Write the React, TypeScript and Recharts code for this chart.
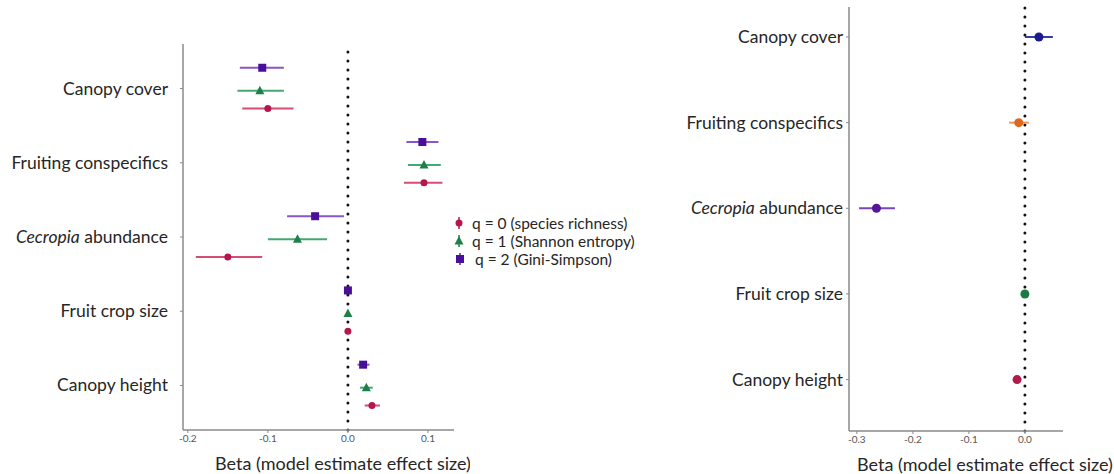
import React from 'react';
import {
  ScatterChart,
  Scatter,
  XAxis,
  YAxis,
  ErrorBar,
  ReferenceLine,
} from 'recharts';

const categories = [
  'Canopy cover',
  'Fruiting conspecifics',
  'Cecropia abundance',
  'Fruit crop size',
  'Canopy height',
];

// left panel: three Hill numbers
const q0Est = [-0.1, 0.095, -0.15, 0.0, 0.03];
const q0Low = [-0.132, 0.07, -0.19, -0.002, 0.021];
const q0High = [-0.068, 0.118, -0.107, 0.002, 0.04];

const q1Est = [-0.11, 0.095, -0.063, 0.0, 0.023];
const q1Low = [-0.138, 0.075, -0.1, -0.002, 0.015];
const q1High = [-0.08, 0.116, -0.026, 0.002, 0.031];

const q2Est = [-0.107, 0.093, -0.041, 0.0, 0.019];
const q2Low = [-0.135, 0.073, -0.076, -0.002, 0.012];
const q2High = [-0.08, 0.113, -0.005, 0.002, 0.027];

const leftTicks = [-0.2, -0.1, 0, 0.1];

// right panel: one estimate per predictor
const rightEst = [0.025, -0.011, -0.265, 0.0, -0.014];
const rightLow = [0.0, -0.028, -0.296, -0.002, -0.018];
const rightHigh = [0.05, 0.007, -0.232, 0.002, -0.01];

const rightTicks = [-0.3, -0.2, -0.1, 0];

const legendLabels = [
  'q = 0 (species richness)',
  'q = 1 (Shannon entropy)',
  'q = 2 (Gini-Simpson)',
];

const FONT = 'Lato, "Open Sans", sans-serif';
const INK = '#262626';

const toRows = (est: number[], low: number[], high: number[], shift: number) =>
  est.map((v, i) => ({ x: v, y: i + shift, err: [v - low[i], high[i] - v] }));

const series = [
  { rows: toRows(q2Est, q2Low, q2High, -0.28), dot: '#4a0f99', line: '#8a55c8', kind: 'square' },
  { rows: toRows(q1Est, q1Low, q1High, 0.03), dot: '#1e8048', line: '#44a872', kind: 'triangle' },
  { rows: toRows(q0Est, q0Low, q0High, 0.27), dot: '#b5164d', line: '#d44d72', kind: 'circle' },
];

const rightColors = [
  { dot: '#1c1a8c', line: '#3b3bb0' },
  { dot: '#e0681c', line: '#f0954f' },
  { dot: '#55169a', line: '#7d45bd' },
  { dot: '#1b7a43', line: '#3d9d66' },
  { dot: '#b3194f', line: '#cf4b74' },
];

const marker = (kind: string, color: string) => (p: any) => {
  const { cx, cy } = p;
  if (cx == null || cy == null) return <g />;
  if (kind === 'square')
    return <rect x={cx - 4} y={cy - 4} width={8} height={8} fill={color} />;
  if (kind === 'triangle')
    return (
      <polygon
        points={`${cx},${cy - 5} ${cx - 4.5},${cy + 3.5} ${cx + 4.5},${cy + 3.5}`}
        fill={color}
      />
    );
  if (kind === 'big')
    return <circle cx={cx} cy={cy} r={4.5} fill={color} />;
  return <circle cx={cx} cy={cy} r={3.5} fill={color} />;
};

const CatTick = (props: any) => {
  const { x, y, payload } = props;
  const name = categories[payload.value];
  if (!name) return null;
  const italic = name.startsWith('Cecropia');
  return (
    <text
      x={x}
      y={y}
      dy={6}
      textAnchor="end"
      fill={INK}
      fontSize={17.5}
      fontFamily={FONT}
    >
      {italic ? (
        <>
          <tspan fontStyle="italic">Cecropia</tspan>
          <tspan> abundance</tspan>
        </>
      ) : (
        name
      )}
    </text>
  );
};

const axisStyle = { stroke: '#8a8a8a', strokeWidth: 1.5 };
const tickStyle = { fill: '#555', fontSize: 10, fontFamily: FONT };

const xLabel = (cx: number) => (p: any) => {
  const vb = p.viewBox || {};
  return (
    <text
      x={cx}
      y={(vb.y || 0) + 40}
      textAnchor="middle"
      fill={INK}
      fontSize={18}
      fontFamily={FONT}
    >
      Beta (model estimate effect size)
    </text>
  );
};

function LegendBox() {
  const icons = [
    { kind: 'circle', dot: '#b5164d', line: '#d44d72' },
    { kind: 'triangle', dot: '#1e8048', line: '#44a872' },
    { kind: 'square', dot: '#4a0f99', line: '#8a55c8' },
  ];
  return (
    <div
      style={{
        position: 'absolute',
        left: 451,
        top: 214,
        fontFamily: FONT,
        fontSize: 15.5,
        color: INK,
        lineHeight: '18px',
      }}
    >
      {legendLabels.map((t, i) => (
        <div key={t} style={{ display: 'flex', alignItems: 'center', height: 18 }}>
          <svg width={16} height={18} style={{ marginLeft: i === 2 ? 1 : 0 }}>
            <line x1={8} x2={8} y1={3} y2={15} stroke={icons[i].line} strokeWidth={2} />
            {marker(icons[i].kind, icons[i].dot)({ cx: 8, cy: 9 })}
          </svg>
          <span style={{ marginLeft: i === 2 ? 7 : 5 }}>{t}</span>
        </div>
      ))}
    </div>
  );
}

export default function App() {
  return (
    <div
      style={{
        position: 'absolute',
        left: 0,
        top: 0,
        width: 1114,
        height: 474,
        background: '#fff',
        overflow: 'hidden',
      }}
    >
      <div style={{ position: 'absolute', left: 0, top: 0 }}>
        <ScatterChart
          width={470}
          height={474}
          margin={{ top: 44, right: 16, bottom: 0, left: 0 }}
        >
          <XAxis
            type="number"
            dataKey="x"
            domain={[-0.206, 0.1325]}
            ticks={leftTicks}
            allowDataOverflow
            tickFormatter={(v: number) => v.toFixed(1)}
            axisLine={axisStyle}
            tickLine={{ stroke: '#8a8a8a' }}
            tickSize={3}
            tick={tickStyle}
            height={44}
            label={xLabel(343)}
          />
          <YAxis
            type="number"
            dataKey="y"
            domain={[-0.6, 4.6]}
            reversed
            ticks={[0, 1, 2, 3, 4]}
            allowDataOverflow
            width={183}
            axisLine={axisStyle}
            tickLine={{ stroke: '#8a8a8a' }}
            tickSize={3}
            tickMargin={12}
            tick={<CatTick />}
          />
          <ReferenceLine
            x={0}
            stroke="#111"
            strokeWidth={3}
            strokeDasharray="0 9"
            strokeLinecap="round"
          />
          {series.map((s, i) => (
            <Scatter
              key={i}
              data={s.rows}
              shape={marker(s.kind, s.dot)}
              isAnimationActive={false}
            >
              <ErrorBar
                dataKey="err"
                direction="x"
                width={0}
                stroke={s.line}
                strokeWidth={2}
              />
            </Scatter>
          ))}
        </ScatterChart>
      </div>
      <LegendBox />
      <div style={{ position: 'absolute', left: 620, top: 0 }}>
        <ScatterChart
          width={494}
          height={474}
          margin={{ top: 7, right: 51, bottom: 0, left: 0 }}
        >
          <XAxis
            type="number"
            dataKey="x"
            domain={[-0.314, 0.068]}
            ticks={rightTicks}
            allowDataOverflow
            tickFormatter={(v: number) => v.toFixed(1)}
            axisLine={axisStyle}
            tickLine={{ stroke: '#8a8a8a' }}
            tickSize={3}
            tick={tickStyle}
            height={43}
            label={xLabel(365)}
          />
          <YAxis
            type="number"
            dataKey="y"
            domain={[-0.35, 4.6]}
            reversed
            ticks={[0, 1, 2, 3, 4]}
            allowDataOverflow
            width={229}
            axisLine={axisStyle}
            tickLine={{ stroke: '#8a8a8a' }}
            tickSize={3}
            tickMargin={3}
            tick={<CatTick />}
          />
          <ReferenceLine
            x={0}
            stroke="#111"
            strokeWidth={3}
            strokeDasharray="0 9"
            strokeLinecap="round"
          />
          {rightEst.map((v, i) => (
            <Scatter
              key={i}
              data={[{ x: v, y: i, err: [v - rightLow[i], rightHigh[i] - v] }]}
              shape={marker('big', rightColors[i].dot)}
              isAnimationActive={false}
            >
              <ErrorBar
                dataKey="err"
                direction="x"
                width={0}
                stroke={rightColors[i].line}
                strokeWidth={2}
              />
            </Scatter>
          ))}
        </ScatterChart>
      </div>
    </div>
  );
}
